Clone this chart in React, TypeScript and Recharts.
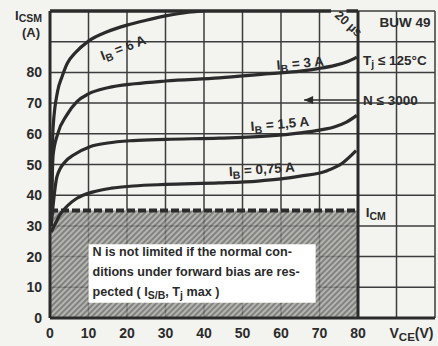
import React from 'react';
import {
  ComposedChart,
  Line,
  XAxis,
  YAxis,
  CartesianGrid,
  ReferenceArea,
  ReferenceLine,
  ReferenceDot,
} from 'recharts';

// axis ticks (grid every 10, labels only up to 80)
const xTicks = [0, 10, 20, 30, 40, 50, 60, 70, 80, 90, 100];
const yTicks = [0, 10, 20, 30, 40, 50, 60, 70, 80, 90, 100];

// I_CSM (A) vs V_CE (V) for each base current
const vce6A = [0.3, 0.8, 2, 3.1, 4.5, 6.5, 10, 15, 20, 25, 30, 36, 40];
const ic6A = [30, 62, 74, 78.5, 83, 86.3, 90.2, 93.3, 95.4, 97, 98.4, 99.6, 100];

const vce3A = [0.3, 0.8, 2, 4.3, 7, 10, 15, 22, 30, 44, 57, 65, 70, 74, 77, 79.7];
const ic3A = [30, 53, 60, 66, 70.5, 73, 75, 76.3, 77.2, 78.2, 79.6, 80.4, 81.3, 82.3, 83.4, 85];

const vce15A = [0.3, 1.8, 4, 6, 10.4, 15, 21.6, 30, 44, 57, 65, 70, 74, 77, 79.7];
const ic15A = [30, 46, 51, 53, 55.8, 57, 57.8, 58.2, 58.6, 59.3, 60.3, 61.2, 62.3, 63.8, 66];

const vce075A = [0.3, 1.3, 2.5, 4.4, 7, 11, 16, 21.6, 30, 44, 54, 60, 65, 72, 76, 79.5];
const ic075A = [28, 30.5, 33.5, 36.4, 39, 41, 42.3, 43, 43.5, 44, 44.6, 45.3, 46.2, 48, 50.5, 54.5];

const icmLimit = 35;
const vceLimit = 80;

const toPoints = (v: number[], i: number[]) => v.map((x, k) => ({ vce: x, ic: i[k] }));

const INK = '#2b2b2b';
const FONT = '"Liberation Sans", Arial, sans-serif';

const YTick = (props: any) => {
  const { x, y, payload } = props;
  const v = payload.value;
  if (v === 100) {
    return (
      <text x={x} y={y + 9} textAnchor="end" fill={INK} fontSize={13} fontWeight={700} fontFamily={FONT}>
        I<tspan fontSize={10.5} dy={2}>CSM</tspan>
      </text>
    );
  }
  if (v === 90) {
    return (
      <text x={x - 2} y={y - 5} textAnchor="end" fill={INK} fontSize={13} fontWeight={700} fontFamily={FONT}>
        (A)
      </text>
    );
  }
  return (
    <text x={x} y={y + 5} textAnchor="end" fill={INK} fontSize={14} fontWeight={700} fontFamily={FONT}>
      {v}
    </text>
  );
};

const XTick = (props: any) => {
  const { x, y, payload } = props;
  const v = payload.value;
  if (v === 100) return null;
  if (v === 90) {
    return (
      <text x={x - 7} y={y + 12} textAnchor="start" fill={INK} fontSize={14} fontWeight={700} fontFamily={FONT}>
        V<tspan fontSize={11.5} dy={3}>CE</tspan>
        <tspan dy={-3}>(V)</tspan>
      </text>
    );
  }
  return (
    <text x={x} y={y + 12} textAnchor="middle" fill={INK} fontSize={14} fontWeight={700} fontFamily={FONT}>
      {v}
    </text>
  );
};

const ibLabel = (value: string, angle: number) => (p: any) => (
  <text
    x={p.cx}
    y={p.cy + 4.5}
    textAnchor="middle"
    fill={INK}
    fontSize={13.5}
    fontWeight={700}
    fontFamily={FONT}
    transform={`rotate(${angle} ${p.cx} ${p.cy})`}
  >
    I<tspan fontSize={10.5} dy={3}>B</tspan>
    <tspan dy={-3}>{` = ${value}`}</tspan>
  </text>
);

const plainLabel = (content: React.ReactNode, anchor: 'start' | 'middle' | 'end' = 'start') => (p: any) => (
  <text x={p.cx} y={p.cy + 5} textAnchor={anchor} fill={INK} fontSize={13.5} fontWeight={700} fontFamily={FONT}>
    {content}
  </text>
);

const BoxText = (p: any) => {
  const { x, y } = p.viewBox;
  const lx = x + 4;
  return (
    <text fill={INK} fontSize={12.6} fontWeight={700} fontFamily={FONT}>
      <tspan x={lx} y={y + 12}>N is not limited if the normal con-</tspan>
      <tspan x={lx} y={y + 32}>ditions under forward bias are res-</tspan>
      <tspan x={lx} y={y + 52}>
        pected ( I<tspan fontSize={10.5} dy={3}>S/B</tspan>
        <tspan dy={-3}>, T</tspan>
        <tspan fontSize={10.5} dy={3}>j</tspan>
        <tspan dy={-3}> max )</tspan>
      </tspan>
    </text>
  );
};

const App: React.FC = () => {
  return (
    <div style={{ position: 'absolute', left: 0, top: 0, width: 438, height: 346, background: '#f3f3ef' }}>
      <ComposedChart width={438} height={346} margin={{ top: 11, right: 3, bottom: 0, left: 0 }}>
        <defs>
          <pattern id="hatch" patternUnits="userSpaceOnUse" width="4" height="4" patternTransform="rotate(45)">
            <rect width="4" height="4" fill="#a6a6a2" />
            <line x1="1" y1="0" x2="1" y2="4" stroke="#555553" strokeWidth="1.5" />
          </pattern>
        </defs>
        <CartesianGrid stroke="#3c3c3c" strokeWidth={1.5} />
        <XAxis
          type="number"
          dataKey="vce"
          domain={[0, 100]}
          ticks={xTicks}
          allowDataOverflow
          height={28}
          tickLine={false}
          axisLine={{ stroke: INK, strokeWidth: 3 }}
          tick={<XTick />}
        />
        <YAxis
          type="number"
          dataKey="ic"
          domain={[0, 100]}
          ticks={yTicks}
          allowDataOverflow
          width={50}
          tickLine={false}
          axisLine={{ stroke: INK, strokeWidth: 3 }}
          tick={<YTick />}
        />
        <ReferenceArea x1={0} x2={vceLimit} y1={0} y2={icmLimit} fill="url(#hatch)" fillOpacity={0.82} stroke="none" />
        <ReferenceArea x1={10} x2={69} y1={5} y2={24} fill="#ffffff" fillOpacity={1} stroke="none" label={<BoxText />} />
        <ReferenceLine
          segment={[{ x: 0, y: icmLimit }, { x: vceLimit, y: icmLimit }]}
          stroke={INK}
          strokeWidth={4}
          strokeDasharray="8 3"
        />
        <ReferenceLine x={vceLimit} stroke={INK} strokeWidth={3} />
        <ReferenceLine segment={[{ x: 0, y: 100 }, { x: 73, y: 100 }]} stroke={INK} strokeWidth={3.5} />
        <ReferenceLine segment={[{ x: 77, y: 100 }, { x: 80, y: 100 }]} stroke={INK} strokeWidth={3.5} />
        <ReferenceLine segment={[{ x: 66, y: 71 }, { x: 80, y: 71 }]} stroke={INK} strokeWidth={1.5} />

        <Line data={toPoints(vce6A, ic6A)} dataKey="ic" type="monotone" dot={false} stroke={INK} strokeWidth={3.2} isAnimationActive={false} />
        <Line data={toPoints(vce3A, ic3A)} dataKey="ic" type="monotone" dot={false} stroke={INK} strokeWidth={3.2} isAnimationActive={false} />
        <Line data={toPoints(vce15A, ic15A)} dataKey="ic" type="monotone" dot={false} stroke={INK} strokeWidth={3.2} isAnimationActive={false} />
        <Line data={toPoints(vce075A, ic075A)} dataKey="ic" type="monotone" dot={false} stroke={INK} strokeWidth={3.2} isAnimationActive={false} />

        <ReferenceDot x={19} y={88} r={0} shape={ibLabel('6 A', -21)} />
        <ReferenceDot x={65} y={83} r={0} shape={ibLabel('3 A', -5)} />
        <ReferenceDot x={59.7} y={63.2} r={0} shape={ibLabel('1,5 A', -5)} />
        <ReferenceDot x={55} y={48.4} r={0} shape={ibLabel('0,75 A', -4)} />

        <ReferenceDot
          x={66}
          y={71}
          r={0}
          shape={(p: any) => (
            <polygon points={`${p.cx},${p.cy} ${p.cx + 9},${p.cy - 4} ${p.cx + 9},${p.cy + 4}`} fill={INK} />
          )}
        />
        <ReferenceDot
          x={77.5}
          y={95.8}
          r={0}
          shape={(p: any) => (
            <text
              x={p.cx}
              y={p.cy + 4}
              textAnchor="middle"
              fill={INK}
              fontSize={12.5}
              fontWeight={700}
              fontFamily={FONT}
              transform={`rotate(42 ${p.cx} ${p.cy})`}
            >
              20 µs
            </text>
          )}
        />
        <ReferenceDot x={92.2} y={96.4} r={0} shape={plainLabel('BUW 49', 'middle')} />
        <ReferenceDot
          x={81.3}
          y={84}
          r={0}
          shape={plainLabel(
            <>
              T<tspan fontSize={10.5} dy={3}>j</tspan>
              <tspan dy={-3}> ≤ 125°C</tspan>
            </>
          )}
        />
        <ReferenceDot x={81.3} y={71} r={0} shape={plainLabel('N ≤ 3000')} />
        <ReferenceDot
          x={82}
          y={34.5}
          r={0}
          shape={plainLabel(
            <>
              I<tspan fontSize={10.5} dy={3}>CM</tspan>
            </>
          )}
        />
      </ComposedChart>
    </div>
  );
};

export default App;
